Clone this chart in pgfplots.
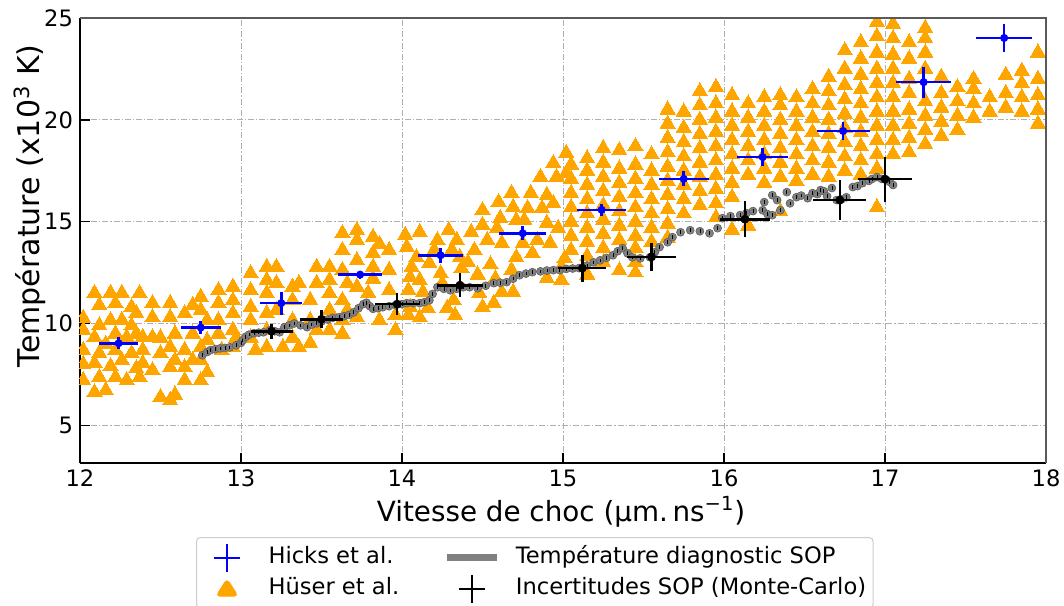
\documentclass[border=0pt]{standalone}
\usepackage{fontspec}
\setmainfont{DejaVu Sans}
\usepackage{pgfplots}
\pgfplotsset{compat=1.18}
\usepackage{pgfplotstable}
\usetikzlibrary{calc}

\definecolor{mplorange}{RGB}{255,165,0}
\definecolor{gridgray}{RGB}{176,176,176}
\definecolor{leggray}{RGB}{204,204,204}
\definecolor{sopgray}{RGB}{128,128,128}
\definecolor{spinegray}{RGB}{90,90,90}

\pgfplotstableread{
x y ex ey
12.24 9.03 0.12 0.30
12.75 9.80 0.125 0.30
13.25 11.00 0.13 0.57
13.74 12.40 0.135 0.20
14.24 13.35 0.14 0.38
14.75 14.43 0.147 0.35
15.24 15.58 0.15 0.30
15.75 17.10 0.155 0.37
16.24 18.17 0.16 0.46
16.74 19.45 0.165 0.43
17.24 21.85 0.17 0.76
17.74 24.02 0.175 0.68
}\hicks

\pgfplotstableread{
x y ex ey
13.19 9.62 0.13 0.37
13.50 10.21 0.135 0.45
13.97 10.95 0.14 0.53
14.36 11.88 0.14 0.60
15.12 12.72 0.15 0.66
15.55 13.27 0.15 0.70
16.13 15.12 0.155 0.88
16.72 16.06 0.165 1.00
17.00 17.09 0.17 1.10
}\mc

\pgfplotstableread{
x y
12.76 8.44
12.79 8.60
12.81 8.69
12.84 8.74
12.87 8.78
12.90 8.80
12.93 8.83
12.97 8.93
13.00 9.05
13.01 9.17
13.03 9.35
13.05 9.45
13.08 9.52
13.11 9.55
13.14 9.57
13.18 9.67
13.21 9.62
13.24 9.57
13.27 9.82
13.30 9.91
13.33 10.00
13.37 9.91
13.41 9.82
13.44 9.95
13.47 10.01
13.50 10.10
13.54 10.20
13.57 10.28
13.61 10.31
13.64 10.36
13.67 10.42
13.70 10.55
13.73 10.75
13.76 10.95
13.78 11.02
13.80 10.85
13.82 10.72
13.85 10.75
13.88 10.80
13.92 10.85
13.96 10.90
14.00 10.95
14.03 11.00
14.07 11.00
14.11 11.00
14.14 11.05
14.17 11.14
14.19 11.45
14.22 11.78
14.26 11.70
14.30 11.63
14.34 11.70
14.38 11.78
14.42 11.78
14.47 11.73
14.52 11.85
14.57 11.98
14.61 12.00
14.65 12.03
14.69 12.20
14.73 12.37
14.77 12.45
14.81 12.52
14.86 12.56
14.90 12.60
14.94 12.62
14.98 12.62
15.02 12.68
15.06 12.70
15.10 12.72
15.15 12.85
15.19 13.00
15.23 13.10
15.27 13.22
15.31 13.35
15.34 13.55
15.37 13.70
15.40 13.45
15.43 13.25
15.48 13.20
15.54 13.25
15.57 13.50
15.60 13.75
15.65 13.99
15.68 14.24
15.73 14.48
15.79 14.58
15.85 14.53
15.91 14.43
15.96 14.68
15.99 15.17
16.04 15.27
16.10 15.32
16.14 15.42
16.18 15.52
16.24 15.56
16.27 15.37
16.30 15.32
16.35 15.56
16.25 15.96
16.30 16.30
16.33 16.06
16.39 16.45
16.41 15.90
16.45 16.20
16.48 16.28
16.52 16.15
16.55 16.40
16.58 16.35
16.60 16.55
16.62 16.50
16.64 16.25
16.67 16.65
16.70 16.06
16.73 16.10
16.76 16.20
16.80 16.70
16.83 16.75
16.86 16.89
16.90 17.00
16.92 17.10
16.95 17.19
16.98 17.10
17.01 17.04
17.03 16.95
17.05 16.80
}\sop

\begin{document}
\begin{tikzpicture}
\begin{axis}[
  name=ax,
  scale only axis, width=483pt, height=222.5pt,
  xmin=12, xmax=18, ymin=3.15, ymax=25,
  axis lines*=left,
  axis line style={line width=0.8pt, -},
  xtick={12,13,14,15,16,17,18}, ytick={5,10,15,20,25},
  tick align=inside, major tick length=5pt,
  tick style={line width=0.8pt, black},
  grid=major,
  major grid style={gridgray, line width=0.4pt, dash pattern=on 3pt off 1pt on 0.6pt off 1pt},
  /pgf/number format/assume math mode=true,
  ticklabel style={font=\fontsize{11.3}{13.5}\selectfont},
  xlabel={Vitesse de choc (µm.\,ns\textsuperscript{−1})},
  ylabel={Température (x10\textsuperscript{3} K)},
  xlabel style={font=\fontsize{13.9}{16}\selectfont, at={(axis description cs:0.498,-0.110)}, anchor=center},
  ylabel style={font=\fontsize{15}{17}\selectfont, at={(axis description cs:-0.0518,0.578)}, anchor=center},
  clip marker paths=true,
  legend columns=2,
  legend style={at={(axis description cs:0.1201,-0.1663)}, anchor=north west,
    draw=leggray, rounded corners=2pt, line width=0.5pt, fill=white,
    inner sep=2.5pt, font=\fontsize{11.3}{13.5}\selectfont, row sep=0.5pt,
    /tikz/every even column/.append style={column sep=21pt},
    /tikz/every odd column/.append style={column sep=7pt},
    nodes={inner sep=1pt, text height=8pt, text depth=2.5pt},
    cells={anchor=west}},
]
% Hüser et al.
\addplot[only marks, mark=triangle*, mark size=4.4pt, mark options={fill=mplorange, draw=mplorange, line width=0pt}, forget plot] coordinates {
(12.02,7.21)(12.02,8.0)(12.02,8.69)(12.02,9.67)(12.02,10.26)
(12.09,6.62)(12.09,8.05)(12.09,9.32)(12.09,11.49)
(12.12,7.36)(12.12,8.54)(12.12,9.9)(12.12,10.9)
(12.16,6.72)(12.16,9.0)
(12.19,7.9)(12.19,10.16)(12.19,11.5)
(12.22,7.36)(12.22,8.69)(12.22,9.5)(12.22,10.99)
(12.26,8.2)(12.26,10.16)(12.26,11.49)
(12.29,7.21)(12.29,9.32)
(12.32,8.54)(12.32,9.9)(12.32,10.8)
(12.35,7.8)(12.35,9.5)(12.35,10.5)
(12.37,7.36)(12.37,11.49)
(12.39,8.05)(12.39,8.69)(12.39,9.32)
(12.45,7.7)(12.45,9.32)(12.45,10.3)(12.45,10.99)
(12.50,6.38)(12.50,8.54)(12.50,9.3)
(12.56,6.23)(12.56,7.85)(12.56,8.83)(12.56,10.3)(12.56,11.0)
(12.59,6.5)(12.59,8.2)(12.59,9.5)
(12.65,7.21)(12.65,7.85)(12.65,8.69)(12.65,10.5)
(12.70,8.2)(12.70,9.5)(12.70,10.9)
(12.75,7.2)(12.75,8.2)(12.75,8.83)(12.75,10.65)(12.75,11.3)
(12.79,7.6)(12.79,9.17)(12.79,10.16)
(12.86,9.5)(12.86,10.16)(12.86,11.0)(12.86,11.63)
(12.88,8.69)
(12.95,8.83)(12.95,9.67)(12.95,10.5)(12.95,11.14)(12.95,11.8)
(12.97,9.3)
(13.06,9.3)(13.06,10.16)(13.06,10.8)(13.06,11.63)(13.06,12.46)
(13.09,8.69)
(13.16,8.83)(13.16,9.67)(13.16,10.5)(13.16,11.49)(13.16,12.13)(13.16,12.77)
(13.22,10.65)(13.22,11.98)(13.22,12.77)
(13.26,8.83)
(13.32,9.3)(13.32,10.16)(13.32,11.14)(13.32,11.8)
(13.36,8.83)(13.36,11.98)
(13.43,9.03)(13.43,10.16)(13.43,11.14)
(13.47,9.67)(13.47,11.98)(13.47,12.77)
(13.55,9.67)(13.55,10.65)(13.55,11.49)(13.55,12.13)(13.55,12.77)
(13.63,9.5)(13.63,10.16)(13.63,11.14)(13.63,12.62)(13.63,13.6)(13.63,14.43)
(13.66,10.65)(13.66,11.98)
(13.72,10.3)(13.72,11.8)(13.72,13.1)(13.72,14.09)(13.72,14.58)
(13.79,11.5)
(13.82,12.2)(13.82,12.77)(13.82,13.45)(13.82,14.24)
(13.86,10.16)(13.86,13.9)
(13.92,11.63)(13.92,12.62)(13.92,13.6)
(13.96,9.67)(13.96,10.4)
(14.02,14.34)(14.03,13.75)(14.04,11.63)(14.04,10.4)(14.05,12.27)(14.05,10.8)(14.06,12.77)(14.09,13.25)
(14.11,14.48)(14.11,12.13)(14.11,10.3)(14.13,11.54)(14.16,10.75)(14.17,12.96)(14.20,13.6)(14.22,14.09)
(14.24,12.46)(14.25,11.98)(14.28,10.75)(14.29,14.58)(14.31,13.6)(14.32,11.14)(14.33,10.4)(14.34,14.09)
(14.36,13.25)(14.37,12.71)(14.41,13.0)(14.43,14.48)(14.45,13.6)(14.47,12.4)(14.48,11.49)(14.50,15.56)(14.50,14.83)(14.50,10.8)
(14.53,14.09)(14.55,12.9)(14.57,11.0)(14.58,12.2)(14.59,14.68)(14.60,15.96)(14.61,15.17)(14.62,13.94)(14.62,11.54)
(14.68,16.4)(14.68,12.62)(14.69,15.71)(14.69,11.54)(14.71,15.07)(14.71,13.25)(14.75,13.94)(14.76,15.07)(14.78,15.66)
(14.80,16.4)(14.81,13.45)(14.84,14.09)(14.86,17.19)(14.87,15.66)(14.90,16.3)(14.90,14.93)(14.90,12.22)(14.92,13.94)
(14.94,17.87)(14.94,15.9)(14.96,17.19)(14.97,14.68)(14.99,12.13)(14.99,12.77)(15.01,13.2)(15.02,18.37)(15.02,17.38)
(15.05,13.6)(15.05,14.3)(15.05,15.0)(15.05,15.7)(15.05,16.4)(15.05,17.1)(15.05,17.8)
(15.15,12.4)(15.15,13.3)(15.15,14.0)(15.15,14.7)(15.15,15.4)(15.15,16.1)(15.15,16.8)(15.15,17.5)(15.15,18.1)
(15.25,13.0)(15.25,13.7)(15.25,14.4)(15.25,15.1)(15.25,15.8)(15.25,16.5)(15.25,17.2)(15.25,17.9)(15.25,18.6)
(15.35,12.6)(15.35,14.1)(15.35,14.8)(15.35,15.5)(15.35,16.2)(15.35,16.9)(15.35,17.6)(15.35,18.5)
(15.45,12.5)(15.45,13.0)(15.45,13.7)(15.45,14.3)(15.45,15.0)(15.45,15.7)(15.45,16.4)(15.45,17.1)(15.45,17.8)(15.45,18.7)
(15.55,14.0)(15.55,14.7)(15.55,15.4)(15.55,16.1)(15.55,16.8)(15.55,17.5)(15.55,18.3)
(15.65,14.2)(15.65,14.9)(15.65,15.6)(15.65,16.3)(15.65,17.0)(15.65,17.7)(15.65,18.4)(15.65,19.1)(15.65,19.8)(15.65,20.5)
(15.75,15.4)(15.75,16.1)(15.75,16.8)(15.75,17.5)(15.75,18.2)(15.75,18.9)(15.75,19.6)(15.75,20.4)
(15.85,15.8)(15.85,16.5)(15.85,17.2)(15.85,17.9)(15.85,18.6)(15.85,19.3)(15.85,20.0)(15.85,20.7)(15.85,21.4)
(15.95,15.2)(15.95,15.9)(15.95,16.6)(15.95,17.3)(15.95,18.0)(15.95,18.7)(15.95,19.4)(15.95,20.1)(15.95,20.8)(15.95,21.6)
(16.05,14.6)(16.05,16.2)(16.05,16.9)(16.05,17.6)(16.05,18.3)(16.05,19.0)(16.05,19.7)(16.05,20.4)(16.05,21.2)
(16.15,14.8)(16.15,17.3)(16.15,18.0)(16.15,18.7)(16.15,19.4)(16.15,20.1)(16.15,20.8)
(16.25,16.9)(16.25,17.6)(16.25,18.3)(16.25,19.0)(16.25,19.7)(16.25,20.4)(16.25,21.1)
(16.35,15.5)(16.35,17.2)(16.35,17.9)(16.35,18.6)(16.35,19.3)(16.35,20.0)(16.35,20.7)(16.35,21.2)
(16.45,17.0)(16.45,17.6)(16.45,18.3)(16.45,19.0)(16.45,19.7)(16.45,20.4)(16.45,21.1)
(16.55,17.3)(16.55,18.0)(16.55,18.7)(16.55,19.4)(16.55,20.1)(16.55,20.8)(16.55,21.5)
(16.65,17.2)(16.65,17.9)(16.65,18.6)(16.65,19.3)(16.65,20.0)(16.65,20.7)(16.65,21.4)(16.65,22.1)
(16.75,17.5)(16.75,18.2)(16.75,18.9)(16.75,19.6)(16.75,20.3)(16.75,21.0)(16.75,21.7)(16.75,22.5)(16.75,23.4)
(16.85,17.3)(16.85,18.0)(16.85,18.7)(16.85,19.4)(16.85,20.1)(16.85,20.8)(16.85,21.5)(16.85,22.2)(16.85,23.0)(16.85,23.8)
(16.95,15.7)(16.95,17.6)(16.95,18.3)(16.95,19.0)(16.95,19.7)(16.95,20.4)(16.95,21.1)(16.95,21.8)(16.95,22.5)(16.95,23.3)(16.95,24.1)(16.95,24.8)
(17.05,18.3)(17.05,19.0)(17.05,19.7)(17.05,20.4)(17.05,21.1)(17.05,21.8)(17.05,22.5)(17.05,23.2)(17.05,24.0)(17.05,24.7)
(17.15,18.4)(17.15,19.1)(17.15,19.8)(17.15,20.5)(17.15,21.3)(17.15,22.0)(17.15,23.0)(17.15,23.8)
(17.25,18.8)(17.25,19.5)(17.25,20.2)(17.25,20.9)(17.25,22.5)(17.25,23.3)(17.25,24.0)(17.25,24.5)
(17.35,19.2)(17.35,19.9)(17.35,20.6)(17.35,21.3)(17.35,22.1)
(17.45,19.5)(17.45,20.2)(17.45,20.9)(17.45,21.6)
(17.55,20.1)(17.55,20.8)(17.55,21.5)(17.55,22.0)
(17.65,20.4)(17.65,21.1)
(17.75,20.6)(17.75,21.3)(17.75,22.2)
(17.85,20.4)(17.85,21.1)(17.85,21.8)(17.85,22.4)
(17.95,19.8)(17.95,20.5)(17.95,21.2)(17.95,22.0)(17.95,23.3)
};
% SOP temperature
\addplot[only marks, mark=*, mark size=2pt, mark options={fill=sopgray, draw=sopgray!75!black, line width=0.3pt}, forget plot] table[x=x, y=y] {\sop};
\addplot[only marks, mark=|, mark size=0.9pt, mark options={draw=black, line width=0.35pt}, forget plot] table[x=x, y=y] {\sop};
% Hicks
\addplot[only marks, mark=*, mark size=1.8pt, color=blue, forget plot,
  error bars/.cd, x dir=both, x explicit, y dir=both, y explicit,
  error bar style={line width=1.3pt, blue}, error mark=none]
  table[x=x, y=y, x error=ex, y error=ey] {\hicks};
% Monte-Carlo
\addplot[only marks, mark=*, mark size=2pt, color=black, forget plot,
  error bars/.cd, x dir=both, x explicit, y dir=both, y explicit,
  error bar style={line width=1.3pt, black}, error mark=none]
  table[x=x, y=y, x error=ex, y error=ey] {\mc};
% legend
\addlegendimage{legend image code/.code={\path (0pt,0pt) (25pt,0pt); \draw[blue, line width=1pt] (6pt,0pt)--(19pt,0pt) (12.5pt,-7pt)--(12.5pt,7pt);}}
\addlegendentry{Hicks et al.}
\addlegendimage{legend image code/.code={\draw[sopgray, line width=3.3pt] (0pt,0pt)--(25pt,0pt);}}
\addlegendentry{Température diagnostic SOP}
\addlegendimage{legend image code/.code={\path (0pt,0pt) (25pt,0pt); \fill[mplorange] (12.5pt,4.8pt) -- (7pt,-3.8pt) -- (18pt,-3.8pt) -- cycle;}}
\addlegendentry{Hüser et al.}
\addlegendimage{legend image code/.code={\path (0pt,0pt) (25pt,0pt); \draw[black, line width=1pt] (6pt,0pt)--(19pt,0pt) (12.5pt,-7pt)--(12.5pt,7pt);}}
\addlegendentry{Incertitudes SOP (Monte-Carlo)}
\end{axis}
\draw[spinegray, line width=0.8pt] (ax.north west) -- (ax.north east) -- (ax.south east);
\pgfresetboundingbox
\path[use as bounding box] ($(ax.south west)+(-40pt,-71pt)$) rectangle ($(ax.north east)+(9pt,9pt)$);
\end{tikzpicture}
\end{document}
